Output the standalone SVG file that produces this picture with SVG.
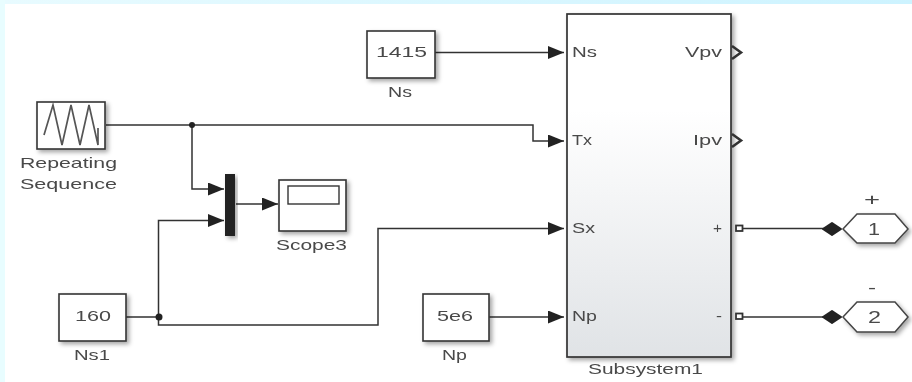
<svg xmlns="http://www.w3.org/2000/svg" width="912" height="382" viewBox="0 0 912 382">
<style>
text{font-family:"Liberation Sans",Arial,sans-serif;fill:#4a4a4a;font-size:14.500px;text-anchor:start}
.b{fill:#fff;stroke:#333;stroke-width:1.6}
.w{fill:none;stroke:#333;stroke-width:1.5}
.pt{font-size:16px}
.d{fill:#222;stroke:#222;stroke-width:2;stroke-linejoin:round}
</style>
<defs>
<linearGradient id="g" x1="0" y1="0" x2="0" y2="1"><stop offset="0.28" stop-color="#fff"/><stop offset="1" stop-color="#e0e3e6"/></linearGradient>
<linearGradient id="top" x1="0" y1="0" x2="1" y2="0"><stop offset="0" stop-color="#e8fbff"/><stop offset="1" stop-color="#cdf3ff"/></linearGradient>
<filter id="s" x="-20%" y="-20%" width="150%" height="150%"><feDropShadow dx="2.500" dy="2.500" stdDeviation="2" flood-color="#000" flood-opacity="0.35"/></filter>
<filter id="soft" x="0" y="0" width="100%" height="100%" filterUnits="userSpaceOnUse"><feGaussianBlur stdDeviation="0.450"/></filter>
<marker id="a" markerUnits="userSpaceOnUse" markerWidth="17" markerHeight="13" refX="16" refY="6.500" orient="auto"><path d="M0,0L16,6.500L0,13z" fill="#222"/></marker>
</defs>
<rect width="912" height="382" fill="#fff"/>
<rect width="912" height="4" fill="url(#top)"/>
<rect width="5" height="382" fill="#e8fdff"/>
<g filter="url(#soft)">
<g id="connectors">
<path class="w" d="M106,125H533V141H564" marker-end="url(#a)"/>
<path class="w" d="M192,125V189H224" marker-end="url(#a)"/>
<path class="w" d="M126,317H158.500V220.500H224" marker-end="url(#a)"/>
<path class="w" d="M158.500,317V325H378V228.500H564" marker-end="url(#a)"/>
<path class="w" d="M236,204H278" marker-end="url(#a)"/>
<path class="w" d="M435,52.500H564" marker-end="url(#a)"/>
<path class="w" d="M489,317H564" marker-end="url(#a)"/>
<path class="w" d="M743,228.500H825"/>
<path class="w" d="M743,317H825"/>
<circle cx="192" cy="125" r="3" fill="#222"/>
<circle cx="159" cy="317" r="3.500" fill="#222"/>
</g>
<g id="repeating-sequence">
<rect class="b" x="37" y="102" width="68" height="47" filter="url(#s)"/>
<path d="M44,135L53,105L62,145L71,105L80,145L89,105L98,145V128" fill="none" stroke="#555" stroke-width="1.700"/>
<text x="20" y="168" textLength="97" lengthAdjust="spacingAndGlyphs">Repeating</text>
<text x="20" y="189" textLength="97" lengthAdjust="spacingAndGlyphs">Sequence</text>
</g>
<g id="mux"><rect x="225" y="174" width="10" height="62" fill="#222" filter="url(#s)"/></g>
<g id="scope3">
<rect class="b" x="279" y="180" width="67" height="51" filter="url(#s)"/>
<rect x="288" y="186" width="51" height="18" fill="#fff" stroke="#333" stroke-width="1.400"/>
<text x="276" y="250" textLength="71" lengthAdjust="spacingAndGlyphs">Scope3</text>
</g>
<g id="ns1">
<rect class="b" x="59" y="294" width="67" height="47" filter="url(#s)"/>
<text x="75" y="321" textLength="36" lengthAdjust="spacingAndGlyphs">160</text>
<text x="74" y="360" textLength="36" lengthAdjust="spacingAndGlyphs">Ns1</text>
</g>
<g id="ns">
<rect class="b" x="367" y="31" width="68" height="47" filter="url(#s)"/>
<text x="376" y="57" textLength="51" lengthAdjust="spacingAndGlyphs">1415</text>
<text x="388" y="97" textLength="24" lengthAdjust="spacingAndGlyphs">Ns</text>
</g>
<g id="np">
<rect class="b" x="423" y="294" width="66" height="47" filter="url(#s)"/>
<text x="437" y="321" textLength="36" lengthAdjust="spacingAndGlyphs">5e6</text>
<text x="442" y="360" textLength="25" lengthAdjust="spacingAndGlyphs">Np</text>
</g>
<g id="subsystem1">
<rect x="567" y="14" width="164" height="343" fill="url(#g)" stroke="#333" stroke-width="1.700" filter="url(#s)"/>
<text x="572" y="57" textLength="25" lengthAdjust="spacingAndGlyphs">Ns</text>
<text x="572" y="145" textLength="20" lengthAdjust="spacingAndGlyphs">Tx</text>
<text x="572" y="233" textLength="23" lengthAdjust="spacingAndGlyphs">Sx</text>
<text x="572" y="321" textLength="25" lengthAdjust="spacingAndGlyphs">Np</text>
<text x="685" y="57" textLength="37" lengthAdjust="spacingAndGlyphs">Vpv</text>
<text x="693" y="145" textLength="29" lengthAdjust="spacingAndGlyphs">Ipv</text>
<text x="713" y="233" textLength="9" lengthAdjust="spacingAndGlyphs">+</text>
<text x="716" y="321" textLength="6" lengthAdjust="spacingAndGlyphs">-</text>
<path d="M732,46L741,52.500L732,59" fill="none" stroke="#333" stroke-width="2.600"/>
<path d="M732,134L741,140.500L732,147" fill="none" stroke="#333" stroke-width="2.600"/>
<rect x="736" y="225.500" width="6.500" height="5.500" fill="#fff" stroke="#333" stroke-width="1.800"/>
<rect x="736" y="313.500" width="6.500" height="5.500" fill="#fff" stroke="#333" stroke-width="1.800"/>
<text x="588" y="374" textLength="115" lengthAdjust="spacingAndGlyphs">Subsystem1</text>
</g>
<g id="port1">
<path class="d" d="M823,229L832,223L841,229L832,235z"/>
<path d="M843,229L857,214H895L908,229L895,243H857z" fill="#fff" stroke="#444" stroke-width="1.500" filter="url(#s)"/>
<text class="pt" x="868" y="235" textLength="12" lengthAdjust="spacingAndGlyphs">1</text>
<text class="pt" x="864" y="205" textLength="16" lengthAdjust="spacingAndGlyphs">+</text>
</g>
<g id="port2">
<path class="d" d="M823,317L832,311L841,317L832,323z"/>
<path d="M843,317L857,302H895L908,317L895,332H857z" fill="#fff" stroke="#444" stroke-width="1.500" filter="url(#s)"/>
<text class="pt" x="868" y="323" textLength="13" lengthAdjust="spacingAndGlyphs">2</text>
<text class="pt" x="868" y="293" textLength="8" lengthAdjust="spacingAndGlyphs">-</text>
</g>
</g>
</svg>
